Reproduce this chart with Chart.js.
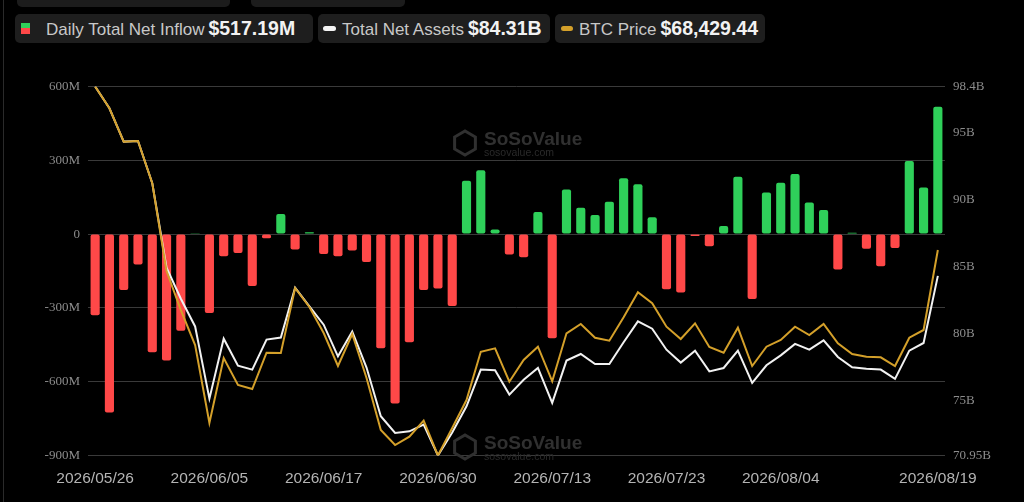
<!DOCTYPE html>
<html>
<head>
<meta charset="utf-8">
<script src="https://cdn.jsdelivr.net/npm/chart.js@4.4.1/dist/chart.umd.min.js"></script>
<style>
  html, body { margin: 0; padding: 0; background: #000; }
  body { width: 1024px; height: 502px; position: relative; overflow: hidden; font-family: "Liberation Sans", Arial, sans-serif; }
  #edge { position: absolute; left: 3px; top: 0; width: 1px; height: 502px; background: #2a2a2a; }
  .stub { position: absolute; top: 0; height: 7px; background: #1c1c1c; border-radius: 0 0 5px 5px; }
  .pill { position: absolute; top: 14px; height: 29px; background: #1e1e1e; border-radius: 5px; color: #c8c8c8; font-size: 17px; line-height: 29px; white-space: nowrap; }
  .pill b { color: #f2f2f2; font-size: 19.5px; font-weight: bold; margin-left: 4px; }
  .ico { position: absolute; }
  .txt { position: absolute; top: 0; }
  canvas { position: absolute; left: 0; top: 0; }
</style>
</head>
<body>
<div id="edge"></div>
<div class="stub" style="left:17px;width:213px"></div>
<div class="stub" style="left:251px;width:154px"></div>

<div class="pill" style="left:15px;width:298px">
  <div class="ico" style="left:6px;top:9px;width:9px;height:5px;background:#2fd05a"></div>
  <div class="ico" style="left:6px;top:14px;width:9px;height:6px;background:#ff4848"></div>
  <span class="txt" style="left:31px">Daily Total Net Inflow<b>$517.19M</b></span>
</div>
<div class="pill" style="left:318px;width:232px">
  <div class="ico" style="left:5px;top:12px;width:13px;height:5px;border-radius:3px;background:#f4f4f4"></div>
  <span class="txt" style="left:24px">Total Net Assets<b>$84.31B</b></span>
</div>
<div class="pill" style="left:555px;width:210px">
  <div class="ico" style="left:6px;top:12px;width:12px;height:5px;border-radius:3px;background:#d4a02a"></div>
  <span class="txt" style="left:24px">BTC Price<b>$68,429.44</b></span>
</div>

<canvas id="chart" width="1024" height="502"></canvas>

<script>
// trading days shown on the category axis
const dates = [
  '2026/05/26', '2026/05/27', '2026/05/28', '2026/05/29', '2026/06/01', '2026/06/02', '2026/06/03', '2026/06/04',
  '2026/06/05', '2026/06/08', '2026/06/09', '2026/06/10', '2026/06/11', '2026/06/12', '2026/06/15', '2026/06/16',
  '2026/06/17', '2026/06/18', '2026/06/22', '2026/06/23', '2026/06/24', '2026/06/25', '2026/06/26', '2026/06/29',
  '2026/06/30', '2026/07/01', '2026/07/02', '2026/07/06', '2026/07/07', '2026/07/08', '2026/07/09', '2026/07/10',
  '2026/07/13', '2026/07/14', '2026/07/15', '2026/07/16', '2026/07/17', '2026/07/20', '2026/07/21', '2026/07/22',
  '2026/07/23', '2026/07/24', '2026/07/27', '2026/07/28', '2026/07/29', '2026/07/30', '2026/07/31', '2026/08/03',
  '2026/08/04', '2026/08/05', '2026/08/06', '2026/08/07', '2026/08/10', '2026/08/11', '2026/08/12', '2026/08/13',
  '2026/08/14', '2026/08/17', '2026/08/18', '2026/08/19'
];
const shownDates = ['2026/05/26', '2026/06/05', '2026/06/17', '2026/06/30', '2026/07/13', '2026/07/23', '2026/08/04', '2026/08/19'];

// daily total net inflow, millions USD
const netInflow = [
  -330, -725, -227, -124, -480, -514, -393, 3, -321, -90,
  -77, -211, -17, 82, -63, 8, -81, -90, -67, -113,
  -464, -689, -440, -227, -221, -292, 217, 260, 19, -83,
  -94, 90, -423, 181, 107, 78, 132, 227, 203, 68,
  -224, -237, -8, -49, 33, 233, -264, 169, 209, 244,
  128, 98, -144, 5, -60, -131, -56, 297, 189, 517.19
];

// total net assets, billions USD
const netAssets = [
  98.4, 96.78, 94.3, 94.35, 91.21, 84.92, 82.61, 80.55, 75.18, 79.64,
  77.63, 77.34, 79.57, 79.72, 83.43, 82.04, 80.68, 78.33, 80.18, 77.49,
  73.87, 72.63, 72.75, 73.25, 70.95, 72.66, 74.61, 77.34, 77.29, 75.48,
  76.59, 77.46, 74.86, 78.01, 78.5, 77.76, 77.76, 79.37, 80.93, 80.38,
  78.82, 77.86, 78.75, 77.21, 77.46, 78.75, 76.35, 77.66, 78.4, 79.25,
  78.82, 79.51, 78.28, 77.51, 77.41, 77.34, 76.65, 78.75, 79.32, 84.31
];

// BTC price, USD
const btcPrice = [
  75000, 74124, 72782, 72810, 71110, 67585, 66017, 64611, 61476, 64088,
  63003, 62842, 64302, 64290, 66902, 66138, 65093, 63767, 65053, 63284,
  61194, 60591, 60926, 61569, 60170, 61275, 62400, 64341, 64478, 63136,
  64008, 64542, 63150, 65081, 65455, 64904, 64784, 65724, 66729, 66287,
  65346, 64852, 65483, 64530, 64302, 65306, 63767, 64542, 64812, 65346,
  65013, 65455, 64679, 64249, 64141, 64117, 63767, 64904, 65214, 68429.44
];

const leftTicks = [-900, -600, -300, 0, 300, 600];
const rightTicks = [70.95, 75, 80, 85, 90, 95, 98.4];

const GREEN = '#2fd05a';
const RED = '#ff4848';

// faint SoSoValue marks behind the data
function drawMark(ctx, cx, cy) {
  ctx.save();
  ctx.strokeStyle = '#303030';
  ctx.lineWidth = 3;
  ctx.beginPath();
  for (let k = 0; k < 6; k++) {
    const a = Math.PI / 3 * k + Math.PI / 6;
    const px = cx - 50 + 12 * Math.cos(a), py = cy + 12 * Math.sin(a);
    if (k === 0) ctx.moveTo(px, py); else ctx.lineTo(px, py);
  }
  ctx.closePath();
  ctx.stroke();
  ctx.fillStyle = '#303030';
  ctx.font = 'bold 19px "Liberation Sans", Arial, sans-serif';
  ctx.textBaseline = 'alphabetic';
  ctx.fillText('SoSoValue', cx - 31, cy + 2);
  ctx.font = '10.5px "Liberation Sans", Arial, sans-serif';
  ctx.fillStyle = '#2a2a2a';
  ctx.fillText('sosovalue.com', cx - 31, cy + 13);
  ctx.restore();
}

const watermark = {
  id: 'watermark',
  beforeDatasetsDraw(chart) {
    drawMark(chart.ctx, 515, 143);
    drawMark(chart.ctx, 515, 447);
  }
};

new Chart(document.getElementById('chart').getContext('2d'), {
  data: {
    labels: dates,
    datasets: [
      {
        type: 'line',
        label: 'BTC Price',
        data: btcPrice,
        yAxisID: 'yPrice',
        borderColor: '#d4a02a',
        borderWidth: 2,
        pointRadius: 0,
        tension: 0,
        order: 0
      },
      {
        type: 'line',
        label: 'Total Net Assets',
        data: netAssets,
        yAxisID: 'yAssets',
        borderColor: '#f2f2f2',
        borderWidth: 2,
        pointRadius: 0,
        tension: 0,
        order: 1
      },
      {
        type: 'bar',
        label: 'Daily Total Net Inflow',
        data: netInflow,
        yAxisID: 'yFlow',
        backgroundColor: c => (c.raw >= 0 ? GREEN : RED),
        barPercentage: 0.64,
        categoryPercentage: 1,
        borderRadius: 2,
        borderSkipped: false,
        order: 2
      }
    ]
  },
  options: {
    responsive: false,
    animation: false,
    layout: { padding: { top: 86.5 } },
    plugins: { legend: { display: false }, tooltip: { enabled: false } },
    scales: {
      x: {
        offset: true,
        grid: { display: false },
        border: { display: false },
        ticks: {
          autoSkip: false,
          maxRotation: 0,
          padding: 6,
          color: '#b4b4b4',
          font: { family: '"Liberation Sans", Arial, sans-serif', size: 15.5 },
          callback(v, i) {
            const d = dates[i];
            return shownDates.includes(d) ? d : '';
          }
        },
        afterFit(scale) { scale.height = 46.5; }
      },
      yFlow: {
        position: 'left',
        min: -900,
        max: 600,
        afterBuildTicks(scale) { scale.ticks = leftTicks.map(v => ({ value: v })); },
        grid: { color: '#3a3a3a', lineWidth: 1, drawTicks: false },
        border: { display: false },
        ticks: {
          padding: 8,
          color: '#8c8c8c',
          font: { family: '"Liberation Serif", "DejaVu Serif", serif', size: 13 },
          callback: v => (v === 0 ? '0' : v + 'M')
        },
        afterFit(scale) { scale.width = 88; }
      },
      yAssets: {
        position: 'right',
        min: 70.95,
        max: 98.4,
        afterBuildTicks(scale) { scale.ticks = rightTicks.map(v => ({ value: v })); },
        grid: { display: false, drawTicks: false },
        border: { display: false },
        ticks: {
          padding: 8,
          color: '#8c8c8c',
          font: { family: '"Liberation Serif", "DejaVu Serif", serif', size: 13 },
          callback: v => v + 'B'
        },
        afterFit(scale) { scale.width = 79; }
      },
      yPrice: {
        display: false,
        min: Math.min(...btcPrice),
        max: Math.max(...btcPrice)
      }
    }
  },
  plugins: [watermark]
});
</script>
</body>
</html>
